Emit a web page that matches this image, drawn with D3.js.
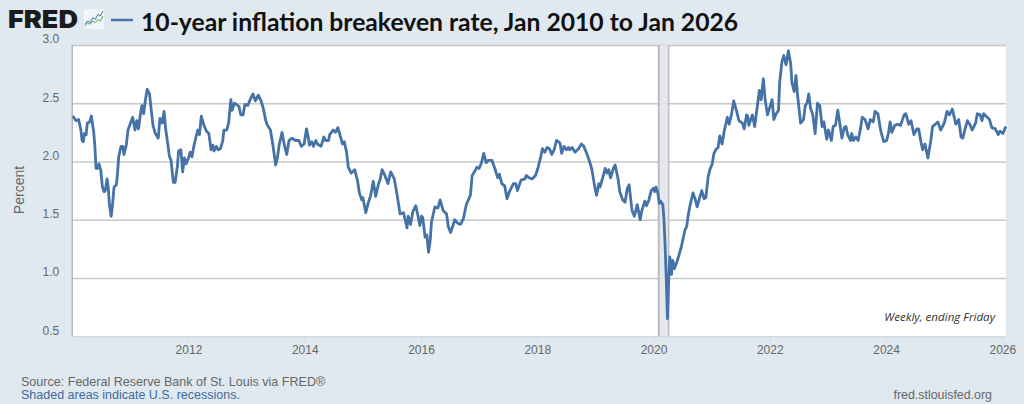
<!DOCTYPE html>
<html>
<head>
<meta charset="utf-8">
<script src="https://cdn.jsdelivr.net/npm/d3@7"></script>
<style>
  html, body { margin: 0; padding: 0; background: #e1e9f0; }
  svg { display: block; }
</style>
</head>
<body>
<div id="chart"></div>
<script>
// 10-year breakeven, [year, percent]
rate2010to2013 = [
  [2010.01,2.39],[2010.05,2.36],[2010.07,2.35],[2010.11,2.36],[2010.15,2.27],[2010.17,2.18],[2010.19,2.17],[2010.21,2.24],[2010.24,2.23],[2010.26,2.33],[2010.30,2.34],[2010.33,2.39],[2010.37,2.25],[2010.39,2.13],[2010.41,1.94],[2010.44,1.94],[2010.46,1.98],[2010.49,1.93],[2010.52,1.78],[2010.55,1.74],[2010.57,1.75],[2010.60,1.85],[2010.62,1.78],[2010.64,1.63],[2010.67,1.53],[2010.69,1.61],[2010.72,1.78],[2010.76,1.80],[2010.78,1.90],[2010.80,2.04],[2010.84,2.13],[2010.87,2.13],[2010.89,2.06],[2010.93,2.14],[2010.96,2.27],
  [2011.01,2.34],[2011.04,2.38],[2011.08,2.27],[2011.11,2.35],[2011.14,2.28],[2011.18,2.43],[2011.20,2.48],[2011.23,2.41],[2011.26,2.53],[2011.29,2.62],[2011.33,2.58],[2011.36,2.44],[2011.39,2.31],[2011.43,2.24],[2011.48,2.20],[2011.51,2.37],[2011.55,2.33],[2011.58,2.43],[2011.61,2.27],[2011.65,2.13],[2011.67,2.05],[2011.70,2.01],[2011.74,1.82],[2011.77,1.82],[2011.81,1.96],[2011.83,2.09],[2011.87,2.10],[2011.90,1.91],[2011.93,2.03],[2011.96,1.98],
  [2012.00,2.03],[2012.03,2.08],[2012.06,2.04],[2012.10,2.15],[2012.13,2.21],[2012.16,2.27],[2012.19,2.23],[2012.22,2.39],[2012.26,2.32],[2012.31,2.26],[2012.35,2.24],[2012.39,2.10],[2012.42,2.14],[2012.44,2.09],[2012.48,2.13],[2012.51,2.10],[2012.55,2.11],[2012.59,2.18],[2012.61,2.27],[2012.66,2.27],[2012.69,2.33],[2012.73,2.53],[2012.75,2.44],[2012.79,2.50],[2012.83,2.49],[2012.87,2.47],[2012.90,2.40],[2012.94,2.40],[2012.97,2.49],
  [2013.02,2.48],[2013.06,2.53],[2013.11,2.58],[2013.15,2.52],[2013.20,2.57],[2013.25,2.52],[2013.29,2.45],[2013.33,2.35],[2013.36,2.31],[2013.41,2.27],[2013.45,2.15],[2013.50,1.97],[2013.53,2.03],[2013.56,2.14],[2013.61,2.25],[2013.65,2.14],[2013.69,2.06],[2013.73,2.18],[2013.78,2.20],[2013.84,2.18],[2013.90,2.18],[2013.94,2.13],[2013.99,2.15]
]
rate2014to2017 = [
  [2014.03,2.28],[2014.06,2.21],[2014.08,2.14],[2014.12,2.17],[2014.15,2.13],[2014.19,2.18],[2014.22,2.15],[2014.28,2.13],[2014.33,2.21],[2014.36,2.18],[2014.41,2.18],[2014.43,2.23],[2014.49,2.27],[2014.53,2.25],[2014.57,2.29],[2014.60,2.24],[2014.65,2.15],[2014.68,2.17],[2014.72,2.08],[2014.75,1.95],[2014.80,1.90],[2014.86,1.93],[2014.91,1.83],[2014.94,1.73],[2014.98,1.67],
  [2015.00,1.69],[2015.05,1.56],[2015.09,1.64],[2015.13,1.70],[2015.18,1.83],[2015.22,1.70],[2015.27,1.81],[2015.30,1.85],[2015.33,1.93],[2015.38,1.88],[2015.43,1.81],[2015.48,1.91],[2015.54,1.85],[2015.59,1.71],[2015.64,1.55],[2015.70,1.56],[2015.76,1.43],[2015.78,1.53],[2015.82,1.46],[2015.86,1.57],[2015.91,1.62],[2015.95,1.53],[2015.98,1.45],
  [2016.01,1.53],[2016.03,1.52],[2016.07,1.35],[2016.10,1.37],[2016.13,1.22],[2016.16,1.33],[2016.18,1.48],[2016.24,1.61],[2016.29,1.60],[2016.33,1.67],[2016.38,1.58],[2016.44,1.55],[2016.47,1.44],[2016.51,1.39],[2016.55,1.45],[2016.58,1.50],[2016.63,1.47],[2016.68,1.46],[2016.73,1.51],[2016.78,1.63],[2016.85,1.71],[2016.88,1.88],[2016.93,1.92],[2016.96,1.95],
  [2017.00,1.94],[2017.04,1.99],[2017.08,2.07],[2017.12,1.99],[2017.16,2.01],[2017.22,2.01],[2017.27,1.94],[2017.32,1.86],[2017.35,1.89],[2017.39,1.81],[2017.44,1.79],[2017.48,1.68],[2017.52,1.74],[2017.59,1.81],[2017.63,1.81],[2017.66,1.75],[2017.72,1.84],[2017.79,1.85],[2017.81,1.88],[2017.86,1.86],[2017.91,1.85],[2017.97,1.88]
]
rate2018to2021 = [
  [2018.01,1.94],[2018.06,2.04],[2018.09,2.11],[2018.13,2.08],[2018.17,2.12],[2018.21,2.11],[2018.25,2.06],[2018.29,2.10],[2018.33,2.18],[2018.39,2.16],[2018.42,2.07],[2018.46,2.13],[2018.50,2.10],[2018.54,2.12],[2018.56,2.10],[2018.60,2.12],[2018.65,2.08],[2018.71,2.11],[2018.76,2.15],[2018.80,2.13],[2018.85,2.07],[2018.90,2.00],[2018.94,1.93],[2018.99,1.78],
  [2019.02,1.71],[2019.06,1.81],[2019.08,1.78],[2019.12,1.85],[2019.17,1.94],[2019.20,1.90],[2019.23,1.93],[2019.26,1.86],[2019.31,1.94],[2019.34,1.97],[2019.39,1.85],[2019.42,1.74],[2019.47,1.67],[2019.51,1.65],[2019.55,1.77],[2019.58,1.80],[2019.63,1.58],[2019.67,1.53],[2019.72,1.63],[2019.77,1.50],[2019.80,1.58],[2019.85,1.66],[2019.88,1.62],[2019.92,1.67],[2019.96,1.75],
  [2020.00,1.77],[2020.02,1.74],[2020.04,1.78],[2020.07,1.74],[2020.10,1.64],[2020.12,1.66],[2020.16,1.63],[2020.18,1.50],[2020.20,1.27],[2020.22,0.98],[2020.24,0.65],[2020.26,0.97],[2020.28,1.18],[2020.31,1.03],[2020.33,1.15],[2020.36,1.08],[2020.41,1.15],[2020.48,1.27],[2020.54,1.41],[2020.57,1.44],[2020.60,1.55],[2020.64,1.65],[2020.68,1.73],[2020.72,1.67],[2020.75,1.61],[2020.80,1.70],[2020.83,1.75],[2020.87,1.68],[2020.90,1.69],[2020.94,1.87],[2020.97,1.93],
  [2021.01,1.98],[2021.04,2.07],[2021.07,2.10],[2021.11,2.12],[2021.14,2.22],[2021.18,2.15],[2021.22,2.27],[2021.27,2.38],[2021.30,2.32],[2021.34,2.40],[2021.38,2.52],[2021.43,2.43],[2021.47,2.35],[2021.53,2.33],[2021.56,2.28],[2021.60,2.40],[2021.62,2.39],[2021.64,2.31],[2021.70,2.40],[2021.74,2.30],[2021.80,2.53],[2021.82,2.61],[2021.85,2.53],[2021.89,2.71],[2021.92,2.53],[2021.96,2.40]
]
rate2022to2026 = [
  [2022.04,2.53],[2022.07,2.36],[2022.11,2.41],[2022.15,2.44],[2022.17,2.68],[2022.21,2.86],[2022.24,2.91],[2022.28,2.83],[2022.32,2.95],[2022.36,2.84],[2022.38,2.68],[2022.42,2.60],[2022.45,2.74],[2022.48,2.56],[2022.53,2.33],[2022.58,2.36],[2022.61,2.48],[2022.64,2.50],[2022.67,2.58],[2022.70,2.46],[2022.74,2.40],[2022.78,2.24],[2022.82,2.50],[2022.86,2.48],[2022.90,2.30],[2022.93,2.34],[2022.98,2.19],
  [2023.01,2.27],[2023.06,2.18],[2023.09,2.30],[2023.13,2.31],[2023.17,2.44],[2023.21,2.31],[2023.24,2.20],[2023.28,2.29],[2023.31,2.30],[2023.34,2.23],[2023.39,2.18],[2023.41,2.24],[2023.44,2.18],[2023.48,2.21],[2023.52,2.18],[2023.56,2.28],[2023.59,2.38],[2023.64,2.36],[2023.69,2.28],[2023.73,2.36],[2023.78,2.34],[2023.81,2.43],[2023.86,2.41],[2023.91,2.26],[2023.96,2.17],
  [2024.01,2.18],[2024.04,2.24],[2024.07,2.34],[2024.10,2.25],[2024.15,2.31],[2024.20,2.32],[2024.25,2.31],[2024.31,2.40],[2024.34,2.41],[2024.39,2.32],[2024.43,2.35],[2024.48,2.23],[2024.53,2.28],[2024.56,2.28],[2024.60,2.17],[2024.63,2.10],[2024.67,2.15],[2024.72,2.03],[2024.77,2.18],[2024.80,2.30],[2024.85,2.32],[2024.89,2.34],[2024.94,2.27],
  [2025.00,2.33],[2025.05,2.43],[2025.09,2.40],[2025.14,2.45],[2025.20,2.32],[2025.25,2.36],[2025.29,2.21],[2025.32,2.20],[2025.36,2.28],[2025.40,2.35],[2025.45,2.31],[2025.48,2.27],[2025.54,2.33],[2025.57,2.41],[2025.62,2.40],[2025.65,2.35],[2025.68,2.41],[2025.74,2.38],[2025.78,2.36],[2025.82,2.29],[2025.88,2.28],[2025.93,2.23],[2025.96,2.26],
  [2026.01,2.24],[2026.06,2.30]
]
rate = rate2010to2013.concat(rate2014to2017, rate2018to2021, rate2022to2026)

recessions = [[2020.09, 2020.26]]
yearTicks = [2012, 2014, 2016, 2018, 2020, 2022, 2024, 2026]
percentTicks = [0.5, 1.0, 1.5, 2.0, 2.5, 3.0]

// trend lines in the little FRED badge
iconBlue = [1, 3, 2, 5, 4, 7, 6, 9]
iconGreen = [0, 2, 1, 3, 2, 4, 3, 6]

width = 1024
height = 404
left = 72.2
right = 1005.8
top_ = 45
bottom = 336.2
labelFont = "'Liberation Sans', Arial, sans-serif"

x = d3.scaleLinear().domain([2010, 2026.06]).range([left, right])
y = d3.scaleLinear().domain([0.5, 3]).range([bottom, top_])

svg = d3.select("#chart").append("svg")
  .attr("width", width)
  .attr("height", height)
  .style("background", "#e1e9f0")

svg.append("rect")
  .attr("x", left).attr("y", top_)
  .attr("width", right - left).attr("height", bottom - top_)
  .attr("fill", "#fff")

// gridlines come from the y axis
yAxis = svg.append("g")
  .attr("transform", "translate(" + left + ",0)")
  .call(d3.axisLeft(y).tickValues(percentTicks).tickSize(-(right - left)).tickPadding(13).tickFormat(d3.format(".1f")))
yAxis.select(".domain").remove()
yAxis.selectAll("line").attr("stroke", "#c8c8c8").attr("stroke-width", 1.6)
yAxis.selectAll("line").filter(function(d) { return d === 0.5 }).attr("stroke", "#ccd6eb").attr("stroke-width", 1)
yAxis.selectAll("text")
  .attr("y", -6)
  .attr("dy", "0.32em")
  .attr("fill", "#666")
  .style("font", "12px " + labelFont)

// recession band
recessions.forEach(function(r) {
  svg.append("rect")
    .attr("x", x(r[0])).attr("y", top_)
    .attr("width", x(r[1]) - x(r[0])).attr("height", bottom - top_)
    .attr("fill", "#e1e5ec").attr("fill-opacity", 0.88)
  r.forEach(function(edge, i) {
    svg.append("line")
      .attr("x1", x(edge)).attr("x2", x(edge))
      .attr("y1", top_).attr("y2", bottom)
      .attr("stroke", "#bcbcbc").attr("stroke-width", i === 0 ? 2 : 1.5)
  })
})

// left border of the plot
svg.append("line")
  .attr("x1", left).attr("x2", left)
  .attr("y1", top_).attr("y2", bottom)
  .attr("stroke", "#a8a8a8").attr("stroke-width", 1.2)

xAxis = svg.append("g")
  .attr("transform", "translate(0," + bottom + ")")
  .call(d3.axisBottom(x).tickValues(yearTicks).tickSize(5).tickPadding(4).tickFormat(d3.format("d")))
xAxis.select(".domain").remove()
xAxis.selectAll("line").attr("stroke", "#ccd6eb")
xAxis.selectAll("text")
  .attr("fill", "#666")
  .style("font", "12px " + labelFont)

line = d3.line()
  .x(function(d) { return x(d[0]) })
  .y(function(d) { return y(d[1]) })

svg.append("path")
  .datum(rate)
  .attr("d", line)
  .attr("fill", "none")
  .attr("stroke", "#4572a7")
  .attr("stroke-width", 2.8)
  .attr("stroke-linejoin", "round")

svg.append("text")
  .attr("transform", "translate(24,190) rotate(-90)")
  .attr("text-anchor", "middle")
  .attr("fill", "#666")
  .style("font", "14px " + labelFont)
  .text("Percent")

svg.append("text")
  .attr("x", 995).attr("y", 321)
  .attr("text-anchor", "end")
  .attr("fill", "#333")
  .style("font", "italic 11.6px 'Open Sans', sans-serif")
  .text("Weekly, ending Friday")

// header
svg.append("text")
  .attr("x", 8).attr("y", 28)
  .attr("fill", "#1b1b1b")
  .attr("textLength", 70)
  .attr("lengthAdjust", "spacingAndGlyphs")
  .style("font", "900 25px Inter, 'Liberation Sans', sans-serif")
  .text("FRED")

iconX = d3.scaleLinear().domain([0, 7]).range([85, 103])
iconY = d3.scaleLinear().domain([0, 9]).range([26, 11])
svg.append("rect")
  .attr("x", 84).attr("y", 9)
  .attr("width", 20).attr("height", 20)
  .attr("fill", "#f2f6f9")
;[[iconBlue, "#4572a7"], [iconGreen, "#5aa86a"]].forEach(function(s) {
  svg.append("path")
    .attr("d", d3.line().x(function(d, i) { return iconX(i) }).y(function(d) { return iconY(d) })(s[0]))
    .attr("fill", "none")
    .attr("stroke", s[1])
    .attr("stroke-width", 1)
})

svg.append("line")
  .attr("x1", 111).attr("x2", 133)
  .attr("y1", 20).attr("y2", 20)
  .attr("stroke", "#4572a7")
  .attr("stroke-width", 2.5)

svg.append("text")
  .attr("x", 141).attr("y", 31)
  .attr("fill", "#111")
  .style("font", "700 24.7px Lato, sans-serif")
  .text("10-year inflation breakeven rate, Jan 2010 to Jan 2026")

// footer
svg.append("text")
  .attr("x", 21).attr("y", 386)
  .attr("fill", "#666")
  .style("font", "12.55px " + labelFont)
  .text("Source: Federal Reserve Bank of St. Louis via FRED®")

svg.append("text")
  .attr("x", 21).attr("y", 399)
  .attr("fill", "#3c6a9e")
  .style("font", "12.5px " + labelFont)
  .text("Shaded areas indicate U.S. recessions.")

svg.append("text")
  .attr("x", 992).attr("y", 399)
  .attr("text-anchor", "end")
  .attr("fill", "#666")
  .style("font", "12.4px " + labelFont)
  .text("fred.stlouisfed.org")
</script>
</body>
</html>
